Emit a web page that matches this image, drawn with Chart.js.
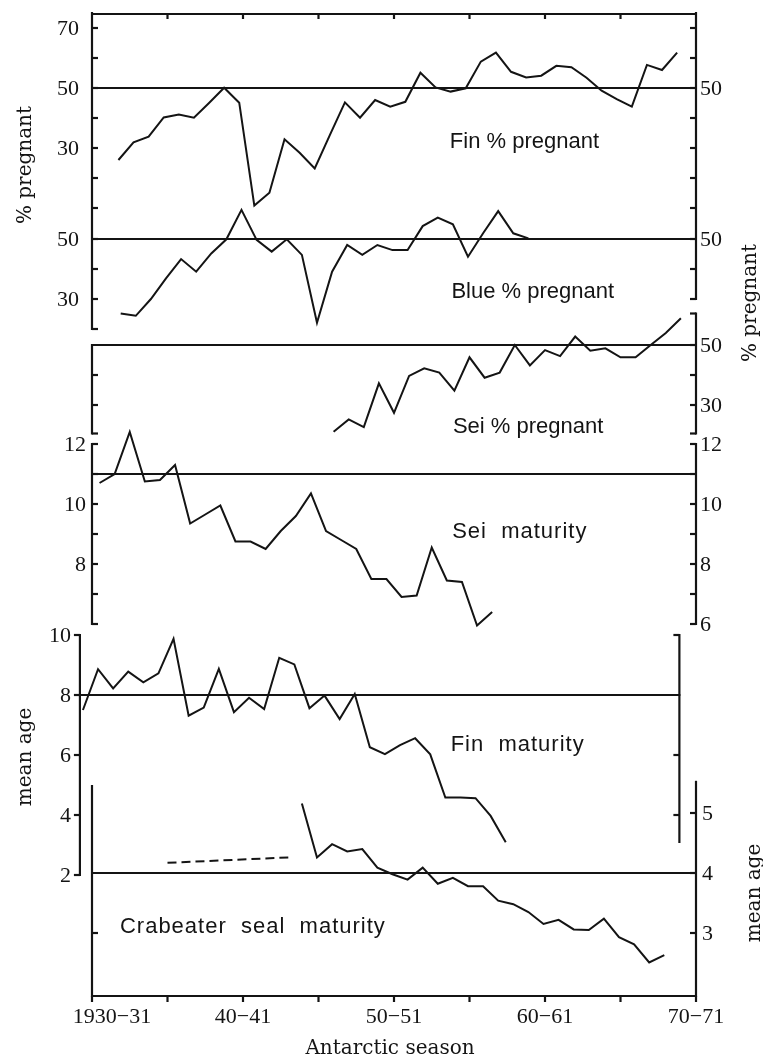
<!DOCTYPE html>
<html>
<head>
<meta charset="utf-8">
<script src="https://cdn.jsdelivr.net/npm/chart.js@4.4.1/dist/chart.umd.min.js"></script>
<style>
  body { margin: 0; background: #fff; }
  #wrap { position: relative; width: 763px; height: 1058px; }
</style>
</head>
<body>
<div id="wrap"><canvas id="chart" width="763" height="1058"></canvas></div>
<script>
// seasons are numbered by their first year (1930 = 1930-31)
const seasonTicks = [1930, 1940, 1950, 1960, 1970];
const seasonLabels = ['1930\u221231', '40\u221241', '50\u221251', '60\u221261', '70\u221271'];

const finPregStart = 1931.75;
const finPreg = [26, 31.9, 33.8, 40.2, 41.2, 40.1, 45, 50.1, 45.1, 10.8,
  15.1, 32.9, 28.4, 23.2, 34.3, 45.2, 40.1, 46, 43.8, 45.4,
  55.1, 50.2, 48.8, 49.9, 58.8, 61.8, 55.4, 53.5, 54.1, 57.4,
  56.9, 53.4, 49.1, 46.3, 43.8, 57.7, 56, 61.8];

const bluePregStart = 1931.9;
const bluePreg = [25.2, 24.4, 30, 36.9, 43.3, 39.1, 45.2, 49.9, 59.7, 49.7,
  45.8, 49.9, 44.7, 22.1, 39.1, 48, 44.7, 48, 46.3, 46.3,
  54.3, 57.1, 54.9, 44.1, 51.9, 59.3, 51.9, 50.2];

const seiPregStart = 1946;
const seiPreg = [21.1, 25.2, 22.6, 37.2, 27.4, 39.7, 42.2, 40.8, 34.8, 45.9,
  39.1, 40.8, 50, 43.2, 48.3, 46.3, 52.8, 48.1, 48.9, 45.9,
  45.9, 50, 54, 58.9];

const seiMatStart = 1930.5;
const seiMat = [10.7, 11.0, 12.4, 10.75, 10.8, 11.3, 9.35, 9.65, 9.95, 8.75,
  8.75, 8.5, 9.1, 9.6, 10.35, 9.1, 8.8, 8.5, 7.5, 7.5,
  6.9, 6.95, 8.55, 7.45, 7.4, 5.95, 6.4];

const finMatStart = 1929.4;
const finMat = [7.5, 8.86, 8.22, 8.78, 8.42, 8.72, 9.87, 7.31, 7.58, 8.87,
  7.43, 7.91, 7.53, 9.24, 9.02, 7.56, 7.98, 7.2, 8.03, 6.26,
  6.03, 6.33, 6.56, 6.02, 4.58, 4.58, 4.56, 3.97, 3.09];

const crabStart = 1943.9;
const crab = [5.16, 4.26, 4.48, 4.36, 4.4, 4.09, 3.98, 3.89, 4.09, 3.82,
  3.92, 3.78, 3.78, 3.54, 3.48, 3.35, 3.15, 3.22, 3.06, 3.05,
  3.24, 2.93, 2.81, 2.51, 2.63];

// early crabeater estimate, drawn dashed
const crabEarlySeasons = [1935, 1943];
const crabEarly = [4.17, 4.26];

const ink = '#141414';

// where each panel's scale sits on the page: value v at pixel px, k pixels per unit
const area = { left: 80, right: 696, top: 14, bottom: 996 };
const panels = {
  fin:    { v: 50, px: 88,  k: 3 },
  blue:   { v: 50, px: 239, k: 3 },
  sei:    { v: 50, px: 345, k: 3 },
  seiMat: { v: 11, px: 474, k: 30 },
  finMat: { v: 8,  px: 695, k: 30 },
  crab:   { v: 4,  px: 873, k: 60 }
};

function series(start, values) {
  return values.map((v, i) => ({ x: start + i, y: v }));
}

function lineSet(data, axis, dash) {
  return {
    data: data,
    yAxisID: axis,
    borderColor: ink,
    borderWidth: 2,
    borderDash: dash || [],
    pointRadius: 0,
    tension: 0,
    fill: false,
    clip: false
  };
}

const scales = {
  x: { type: 'linear', display: false, bounds: 'data',
       min: 1930 - (92 - area.left) / 15.1, max: 1970 }
};
Object.keys(panels).forEach(id => {
  const p = panels[id];
  scales[id] = {
    type: 'linear', display: false, bounds: 'data',
    min: p.v - (area.bottom - p.px) / p.k,
    max: p.v + (p.px - area.top) / p.k
  };
});

// vertical axis segments: at = season position, from/to = [scale, value]
const axes = [
  { at: 1930, side: 'left', dir: 1, gap: 13, from: ['fin', 75], to: ['blue', 20],
    ticks: [['fin', [70, 60, 50, 40, 30, 20, 10]], ['blue', [50, 40, 30, 20]]],
    labels: [['fin', [70, 50, 30]], ['blue', [50, 30]]] },
  { at: 1970, side: 'right', dir: -1, gap: 4, from: ['fin', 75], to: ['blue', 30],
    ticks: [['fin', [70, 60, 50, 40, 30, 20, 10]], ['blue', [50, 40, 30]]],
    labels: [['fin', [50]], ['blue', [50]]] },
  { at: 1930, side: 'left', dir: 1, gap: 6, from: ['sei', 50], to: ['sei', 20.5],
    ticks: [['sei', [40, 30, 20.5]]], labels: [] },
  { at: 1970, side: 'right', dir: -1, gap: 4, from: ['sei', 60.5], to: ['sei', 20.5],
    ticks: [['sei', [60.5, 50, 40, 30, 20.5]]], labels: [['sei', [50, 30]]] },
  { at: 1930, side: 'left', dir: 1, gap: 6, from: ['seiMat', 12], to: ['seiMat', 6],
    ticks: [['seiMat', [12, 11, 10, 9, 8, 7, 6]]], labels: [['seiMat', [12, 10, 8]]] },
  { at: 1970, side: 'right', dir: -1, gap: 4, from: ['seiMat', 12], to: ['seiMat', 6],
    ticks: [['seiMat', [12, 11, 10, 9, 8, 7, 6]]], labels: [['seiMat', [12, 10, 8, 6]]] },
  { at: 1929.2, side: 'left', dir: -1, gap: 9, from: ['finMat', 10], to: ['finMat', 2],
    ticks: [['finMat', [10, 8, 6, 4, 2]]], labels: [['finMat', [10, 8, 6, 4, 2]]] },
  { at: 1968.9, side: 'right', dir: -1, gap: 4, from: ['finMat', 10], to: ['finMat', 3.1],
    ticks: [['finMat', [10, 6, 4]]], labels: [] },
  { at: 1930, side: 'left', dir: 1, gap: 6, from: ['crab', 5.45], to: ['crab', 1.95],
    ticks: [['crab', [3]]], labels: [] },
  { at: 1970, side: 'right', dir: -1, gap: 6, from: ['crab', 5.52], to: ['crab', 1.95],
    ticks: [['crab', [5, 4, 3]]], labels: [['crab', [5, 4, 3]]] }
];

// long-term mean lines
const refLines = [
  { id: 'fin', v: 50, x0: 1930, x1: 1970 },
  { id: 'blue', v: 50, x0: 1930, x1: 1970 },
  { id: 'sei', v: 50, x0: 1930, x1: 1970 },
  { id: 'seiMat', v: 11, x0: 1930, x1: 1970 },
  { id: 'finMat', v: 8, x0: 1929.2, x1: 1968.9 },
  { id: 'crab', v: 4, x0: 1930, x1: 1970 }
];

const panelNames = [
  { text: 'Fin % pregnant', id: 'fin', x: 1953.7, y: 30, sp: 0 },
  { text: 'Blue % pregnant', id: 'blue', x: 1953.8, y: 30.3, sp: 0 },
  { text: 'Sei % pregnant', id: 'sei', x: 1953.9, y: 20.7, sp: 0 },
  { text: 'Sei  maturity', id: 'seiMat', x: 1953.85, y: 8.87, sp: 1 },
  { text: 'Fin  maturity', id: 'finMat', x: 1953.75, y: 6.13, sp: 1 },
  { text: 'Crabeater  seal  maturity', id: 'crab', x: 1931.85, y: 3.0, sp: 1 }
];

const panelAxes = {
  id: 'panelAxes',
  afterDatasetsDraw(chart) {
    const ctx = chart.ctx;
    const X = v => chart.scales.x.getPixelForValue(v);
    const Y = (id, v) => chart.scales[id].getPixelForValue(v);
    const top = chart.chartArea.top, bottom = chart.chartArea.bottom;
    ctx.save();
    ctx.strokeStyle = ink;
    ctx.fillStyle = ink;
    ctx.lineWidth = 2.2;
    ctx.lineCap = 'butt';
    const line = (x1, y1, x2, y2) => {
      ctx.beginPath(); ctx.moveTo(x1, y1); ctx.lineTo(x2, y2); ctx.stroke();
    };

    refLines.forEach(r => line(X(r.x0) - 1, Y(r.id, r.v), X(r.x1) + 1, Y(r.id, r.v)));

    // top frame and bottom season axis
    line(X(1930) - 1, top, X(1970) + 1, top);
    line(X(1930) - 1, bottom, X(1970) + 1, bottom);
    for (let s = 1935; s < 1970; s += 5) line(X(s), top, X(s), top + 5);
    for (let s = 1930; s <= 1970; s += 5) line(X(s), bottom, X(s), bottom + 6);

    ctx.font = '22px "Liberation Serif", serif';
    ctx.textBaseline = 'alphabetic';
    ctx.textAlign = 'center';
    seasonTicks.forEach((s, i) => {
      ctx.fillText(seasonLabels[i], X(s) + (i === 0 ? 20 : 0), 1023);
    });

    axes.forEach(a => {
      const x = X(a.at);
      line(x, Y(a.from[0], a.from[1]) - 1, x, Y(a.to[0], a.to[1]) + 1);
      a.ticks.forEach(([id, vals]) => vals.forEach(v => {
        const y = Y(id, v);
        line(x, y, x + a.dir * 6, y);
      }));
      ctx.textBaseline = 'middle';
      ctx.textAlign = a.side === 'left' ? 'right' : 'left';
      a.labels.forEach(([id, vals]) => vals.forEach(v => {
        const y = Y(id, v);
        ctx.fillText(String(v), a.side === 'left' ? x - a.gap : x + a.gap, y + 1);
      }));
    });

    ctx.font = '22px "Liberation Sans", Arial, sans-serif';
    ctx.textAlign = 'left';
    ctx.textBaseline = 'alphabetic';
    panelNames.forEach(n => {
      ctx.letterSpacing = n.sp + 'px';
      ctx.fillText(n.text, X(n.x), Y(n.id, n.y));
    });
    ctx.letterSpacing = '0px';

    ctx.font = '20px "DejaVu Serif", serif';
    ctx.textAlign = 'center';
    ctx.fillText('Antarctic season', 390, 1054);
    const vtext = (t, x, y) => {
      ctx.save();
      ctx.translate(x, y);
      ctx.rotate(-Math.PI / 2);
      ctx.textBaseline = 'middle';
      ctx.fillText(t, 0, 0);
      ctx.restore();
    };
    vtext('% pregnant', 26, 165);
    vtext('% pregnant', 751, 303);
    vtext('mean age', 26, 757);
    vtext('mean age', 755, 893);
    ctx.restore();
  }
};

new Chart(document.getElementById('chart'), {
  type: 'line',
  data: {
    datasets: [
      lineSet(series(finPregStart, finPreg), 'fin'),
      lineSet(series(bluePregStart, bluePreg), 'blue'),
      lineSet(series(seiPregStart, seiPreg), 'sei'),
      lineSet(series(seiMatStart, seiMat), 'seiMat'),
      lineSet(series(finMatStart, finMat), 'finMat'),
      lineSet(series(crabStart, crab), 'crab'),
      lineSet(crabEarlySeasons.map((s, i) => ({ x: s, y: crabEarly[i] })), 'crab', [9, 5])
    ]
  },
  options: {
    responsive: false,
    animation: false,
    devicePixelRatio: 1,
    layout: { padding: { left: area.left, right: 763 - area.right, top: area.top, bottom: 1058 - area.bottom } },
    plugins: { legend: { display: false }, tooltip: { enabled: false } },
    scales: scales
  },
  plugins: [panelAxes]
});
</script>
</body>
</html>
